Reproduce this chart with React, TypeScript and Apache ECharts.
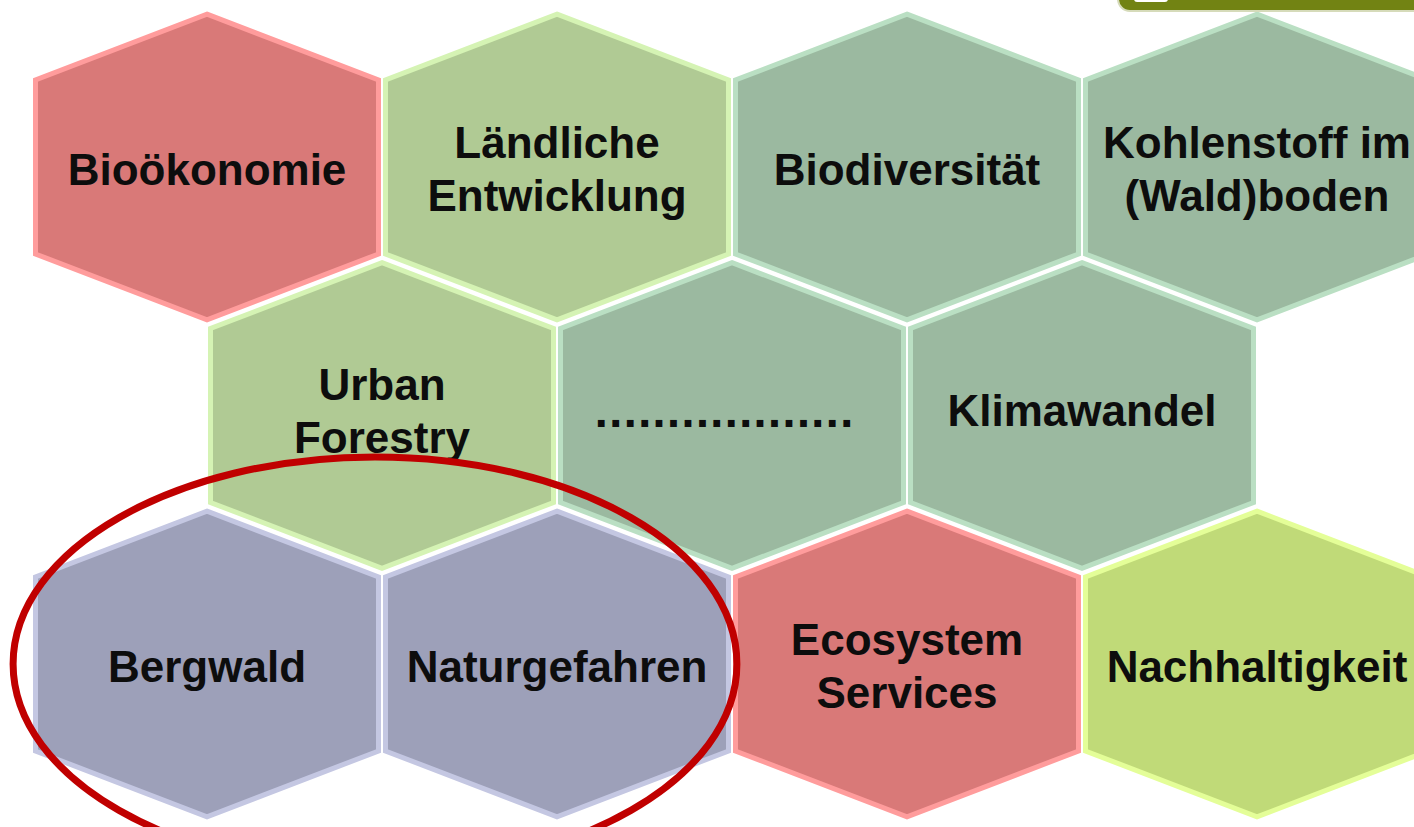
import React, { useEffect, useRef } from "react";
import * as echarts from "echarts";

// ---- data ----
const labels = [
  "Bioökonomie",
  "Ländliche\nEntwicklung",
  "Biodiversität",
  "Kohlenstoff im\n(Wald)boden",
  "Urban\nForestry",
  "..................",
  "Klimawandel",
  "Bergwald",
  "Naturgefahren",
  "Ecosystem\nServices",
  "Nachhaltigkeit",
];
const cols = [0, 1, 2, 3, 0.5, 1.5, 2.5, 0, 1, 2, 3];
const rows = [0, 0, 0, 0, 1, 1, 1, 2, 2, 2, 2];
const themes = [
  "red", "green", "sage", "sage",
  "green", "sage", "sage",
  "lavender", "lavender", "red", "lime",
];
const highlightCenter = [0.48, 2];
const highlightRadii = [1.034, 0.833];

// ---- styles ----
const palette: Record<string, { fill: string; stroke: string }> = {
  red: { fill: "#D97978", stroke: "#FF9C9C" },
  green: { fill: "#B0CA94", stroke: "#D5F3B4" },
  sage: { fill: "#9BB9A0", stroke: "#BADFC3" },
  lavender: { fill: "#9DA0B9", stroke: "#C4C7E2" },
  lime: { fill: "#C0DA78", stroke: "#E4FE98" },
};

const W = 1414;
const H = 827;
const PX_X = 350; // px per column unit
const PX_Y = 248.5; // px per row unit
const X0 = 207; // pixel of column 0
const Y0 = 167; // pixel of row 0

export default function App() {
  const ref = useRef<HTMLDivElement>(null);
  useEffect(() => {
    if (!ref.current) return;
    const chart = echarts.init(ref.current, undefined, { renderer: "svg" });
    const xMin = -X0 / PX_X;
    const yMin = -Y0 / PX_Y;
    const hexData = labels.map((l, i) => [cols[i], rows[i], i]);
    chart.setOption({
      animation: false,
      backgroundColor: "#ffffff",
      grid: { left: 0, right: 0, top: 0, bottom: 0 },
      xAxis: { type: "value", min: xMin, max: xMin + W / PX_X, show: false },
      yAxis: { type: "value", min: yMin, max: yMin + H / PX_Y, inverse: true, show: false },
      graphic: [
        {
          type: "rect",
          shape: { x: 1118, y: -30, width: 330, height: 41, r: 12 },
          style: { fill: "#728313", stroke: "#D6DBBA", lineWidth: 2 },
          z: 10,
        },
        {
          type: "rect",
          shape: { x: 1134, y: -8, width: 34, height: 10, r: 3 },
          style: { fill: "#ffffff" },
          z: 11,
        },
      ],
      series: [
        {
          type: "custom",
          coordinateSystem: "cartesian2d",
          data: hexData,
          silent: true,
          renderItem: (params: any, api: any) => {
            const c = api.coord([api.value(0), api.value(1)]);
            const s = api.size([1, 1]);
            const i = api.value(2);
            const hw = s[0] * 0.49;
            const ht = s[1] * 0.615;
            const hs = s[1] * 0.35;
            const p = palette[themes[i]];
            const label = labels[i];
            const isDots = /^\.+$/.test(label);
            const rowShift = rows[i] === 1 ? -5 : 2;
            return {
              type: "group",
              children: [
                {
                  type: "polygon",
                  shape: {
                    points: [
                      [c[0], c[1] - ht],
                      [c[0] + hw, c[1] - hs],
                      [c[0] + hw, c[1] + hs],
                      [c[0], c[1] + ht],
                      [c[0] - hw, c[1] + hs],
                      [c[0] - hw, c[1] - hs],
                    ],
                  },
                  style: { fill: p.fill, stroke: p.stroke, lineWidth: 5, lineJoin: "miter" },
                },
                {
                  type: "text",
                  z2: 5,
                  style: {
                    text: label,
                    x: isDots ? c[0] - 8 : c[0],
                    y: isDots ? c[1] - 2 : c[1] + rowShift,
                    align: "center",
                    verticalAlign: "middle",
                    fontSize: isDots ? 38 : 44,
                    fontWeight: "bold",
                    fontFamily: isDots ? "DejaVu Sans" : "Liberation Sans, Arial, sans-serif",
                    lineHeight: 53,
                    fill: "#0d0d0d",
                  },
                },
              ],
            };
          },
        },
        {
          type: "custom",
          coordinateSystem: "cartesian2d",
          data: [highlightCenter],
          silent: true,
          z: 5,
          renderItem: (params: any, api: any) => {
            const c = api.coord([api.value(0), api.value(1)]);
            const s = api.size([1, 1]);
            return {
              type: "ellipse",
              shape: { cx: c[0], cy: c[1], rx: s[0] * highlightRadii[0], ry: s[1] * highlightRadii[1] },
              style: { fill: "none", stroke: "#C00000", lineWidth: 7 },
            };
          },
        },
      ],
    });
    return () => chart.dispose();
  }, []);
  return (
    <div
      ref={ref}
      style={{ position: "absolute", left: 0, top: 0, width: W, height: H }}
    />
  );
}
